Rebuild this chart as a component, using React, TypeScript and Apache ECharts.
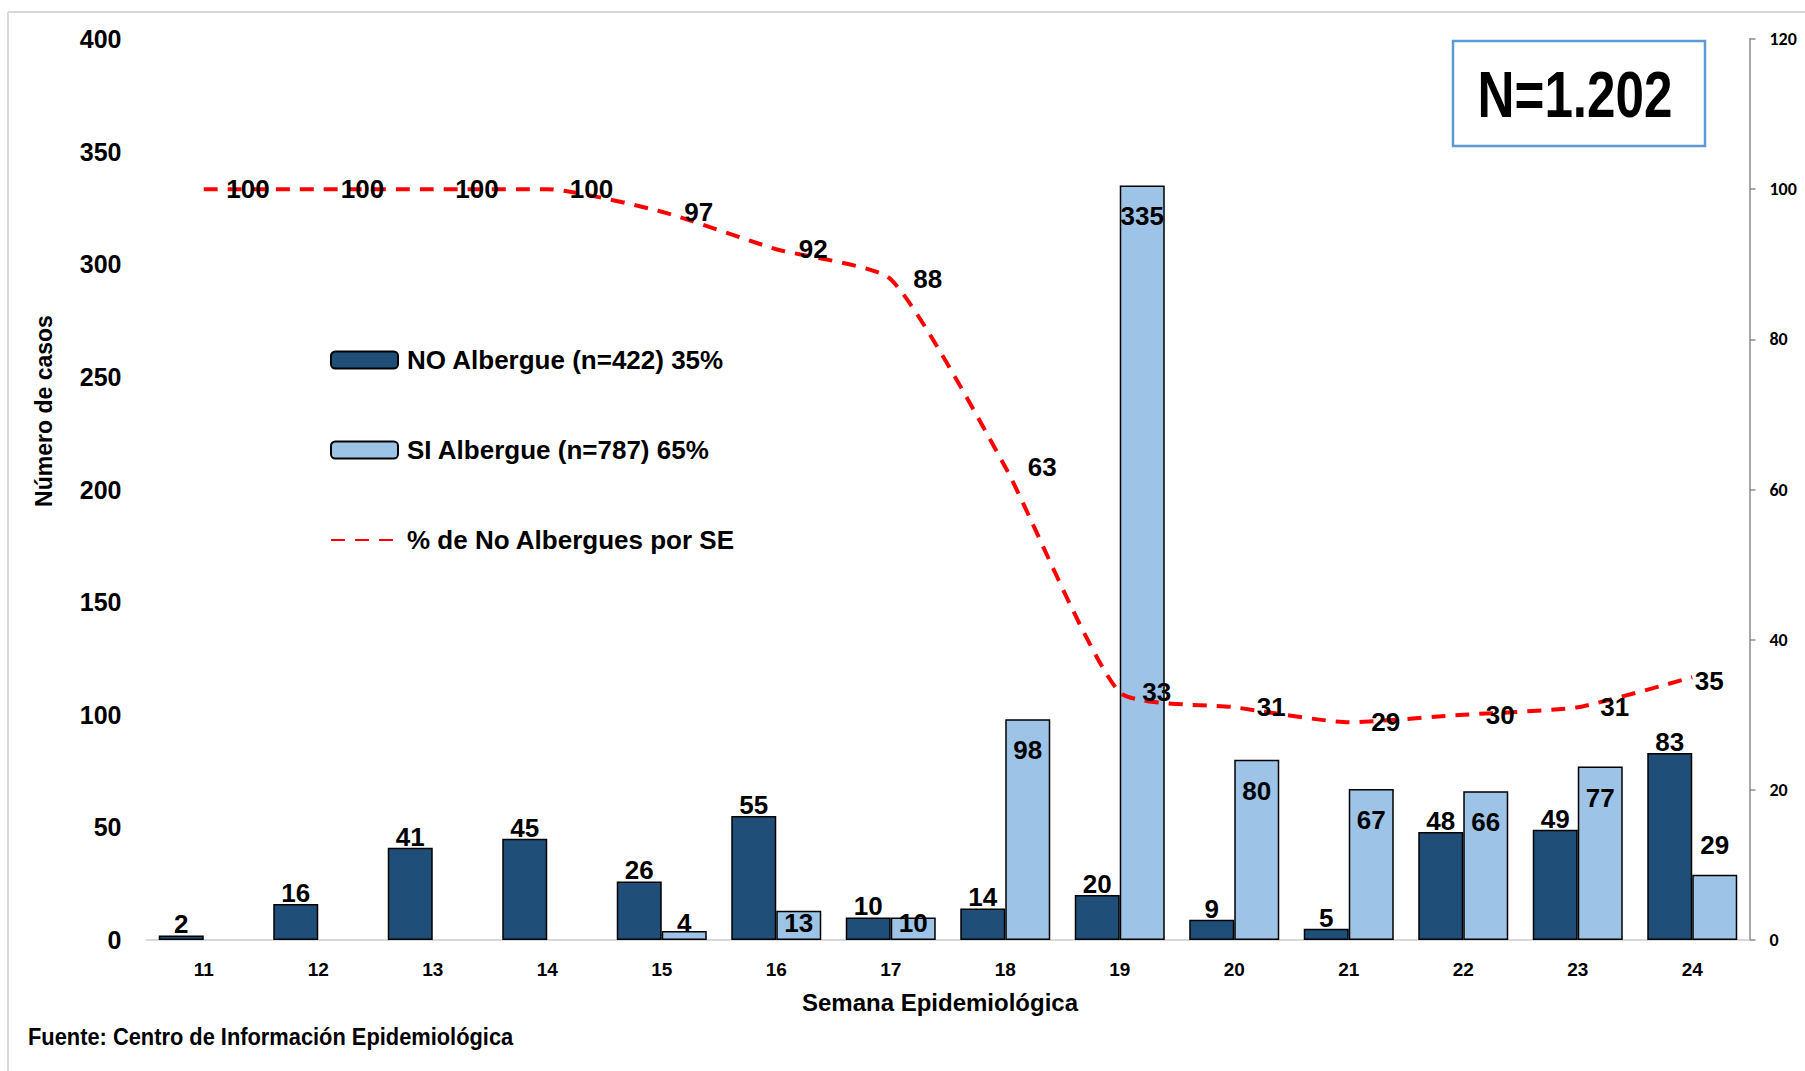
import React, { useEffect, useRef } from "react";
import * as echarts from "echarts";

const weeks = ["11", "12", "13", "14", "15", "16", "17", "18", "19", "20", "21", "22", "23", "24"];
const noAlbergue = [2, 16, 41, 45, 26, 55, 10, 14, 20, 9, 5, 48, 49, 83];
const siAlbergue = [null, null, null, null, 4, 13, 10, 98, 335, 80, 67, 66, 77, 29];
const pctNoAlbergue = [100, 100, 100, 100, 97, 92, 88, 63, 33, 31, 29, 30, 31, 35];
const leftTicks = { min: 0, max: 400, interval: 50 };
const rightTicks = { min: 0, max: 120, interval: 20 };

const FONT = "'Liberation Sans', Arial, sans-serif";
const DARK = "#1F4E79";
const LIGHT = "#9DC3E6";

export default function App() {
  const ref = useRef<HTMLDivElement>(null);
  useEffect(() => {
    if (!ref.current) return;
    const chart = echarts.init(ref.current, null, { renderer: "svg" });

    const siData = siAlbergue.map((v, i) => {
      if (v === null) return { value: null };
      let label: any = undefined;
      if (weeks[i] === "24") label = { position: "top", distance: 17 };
      else if (v < 15) label = { position: "insideBottom", distance: 4 };
      return label ? { value: v, label } : { value: v };
    });

    const pctData = pctNoAlbergue.map((v, i) =>
      i === pctNoAlbergue.length - 1 ? { value: v, label: { distance: 2, offset: [0, 4] } } : { value: v }
    );

    const barLabel = {
      show: true,
      fontFamily: FONT,
      fontWeight: "bold",
      fontSize: 26,
      color: "#000",
    };

    chart.setOption({
      animation: false,
      backgroundColor: "#fff",
      grid: { left: 146.5, right: 55.5, top: 39, bottom: 131, containLabel: false },
      legend: {
        orient: "vertical",
        left: 330,
        top: 345,
        padding: 0,
        itemWidth: 67,
        itemHeight: 17,
        itemGap: 60,
        textStyle: {
          fontFamily: FONT,
          fontWeight: "bold",
          fontSize: 26,
          color: "#000",
          lineHeight: 30,
          padding: [0, 0, 0, 4],
        },
        data: ["NO Albergue (n=422) 35%", "SI Albergue (n=787) 65%", "% de No Albergues por SE"],
      },
      xAxis: {
        type: "category",
        data: weeks,
        name: "Semana Epidemiológica",
        nameLocation: "middle",
        nameGap: 50,
        nameTextStyle: { fontFamily: FONT, fontWeight: "bold", fontSize: 24, color: "#000", padding: [0, 16, 0, 0] },
        axisLine: { show: true, lineStyle: { color: "#D9D9D9", width: 2 } },
        axisTick: { show: false },
        axisLabel: { fontFamily: FONT, fontWeight: "bold", fontSize: 19, color: "#000", margin: 20 },
      },
      yAxis: [
        {
          type: "value",
          min: leftTicks.min,
          max: leftTicks.max,
          interval: leftTicks.interval,
          axisLine: { show: false },
          axisTick: { show: false },
          splitLine: { show: false },
          axisLabel: { fontFamily: FONT, fontWeight: "bold", fontSize: 25, color: "#000", margin: 25 },
        },
        {
          type: "value",
          min: rightTicks.min,
          max: rightTicks.max,
          interval: rightTicks.interval,
          position: "right",
          axisLine: { show: true, lineStyle: { color: "#8C8C8C", width: 1.5 } },
          axisTick: { show: true, length: 6, lineStyle: { color: "#8C8C8C", width: 1.5 } },
          splitLine: { show: false },
          axisLabel: { fontFamily: "Carlito, Lato, 'Open Sans', sans-serif", fontWeight: "bold", fontSize: 18, color: "#000", margin: 20 },
        },
      ],
      series: [
        {
          name: "NO Albergue (n=422) 35%",
          type: "bar",
          data: noAlbergue,
          barWidth: 45,
          barGap: "0%",
          itemStyle: { color: DARK, borderColor: "#000", borderWidth: 1.5 },
          label: { ...barLabel, position: "top", distance: -2 },
          z: 2,
        },
        {
          name: "SI Albergue (n=787) 65%",
          type: "bar",
          data: siData,
          barWidth: 45,
          barGap: "0%",
          itemStyle: { color: LIGHT, borderColor: "#000", borderWidth: 1.5 },
          label: { ...barLabel, position: "insideTop", distance: 18 },
          z: 2,
        },
        {
          name: "% de No Albergues por SE",
          type: "line",
          yAxisIndex: 1,
          data: pctData,
          smooth: 0.18,
          symbol: "circle",
          symbolSize: 1,
          showSymbol: true,
          lineStyle: { color: "#FF0000", width: 4, type: [14, 10] },
          itemStyle: { color: "transparent", borderWidth: 0 },
          label: {
            show: true,
            position: "right",
            distance: 22,
            fontFamily: FONT,
            fontWeight: "bold",
            fontSize: 26,
            color: "#000",
          },
          z: 5,
        },
      ],
      graphic: [
        { type: "line", shape: { x1: 8, y1: 12, x2: 1805, y2: 12 }, style: { stroke: "#D9D9D9", lineWidth: 2 } },
        { type: "line", shape: { x1: 8, y1: 12, x2: 8, y2: 1071 }, style: { stroke: "#D9D9D9", lineWidth: 2 } },
        {
          type: "text",
          x: 44,
          y: 411,
          rotation: Math.PI / 2,
          style: {
            text: "Número de casos",
            font: `bold 23px ${FONT}`,
            fill: "#000",
            align: "center",
            verticalAlign: "middle",
          },
        },
        {
          type: "rect",
          shape: { x: 1453, y: 41, width: 252, height: 105 },
          style: { fill: "#fff", stroke: "#5B9BD5", lineWidth: 2.5 },
          z: 10,
        },
        {
          type: "text",
          x: 1575,
          y: 95,
          scaleX: 0.8,
          style: {
            text: "N=1.202",
            font: `bold 64px ${FONT}`,
            fill: "#000",
            align: "center",
            verticalAlign: "middle",
          },
          z: 11,
        },
        {
          type: "text",
          x: 28,
          y: 1037,
          scaleX: 0.91,
          style: {
            text: "Fuente: Centro de Información Epidemiológica",
            font: `bold 24px ${FONT}`,
            fill: "#000",
            align: "left",
            verticalAlign: "middle",
          },
        },
      ],
    });
    return () => chart.dispose();
  }, []);

  return (
    <div
      ref={ref}
      style={{ position: "absolute", left: 0, top: 0, width: 1805, height: 1071, background: "#fff" }}
    />
  );
}
